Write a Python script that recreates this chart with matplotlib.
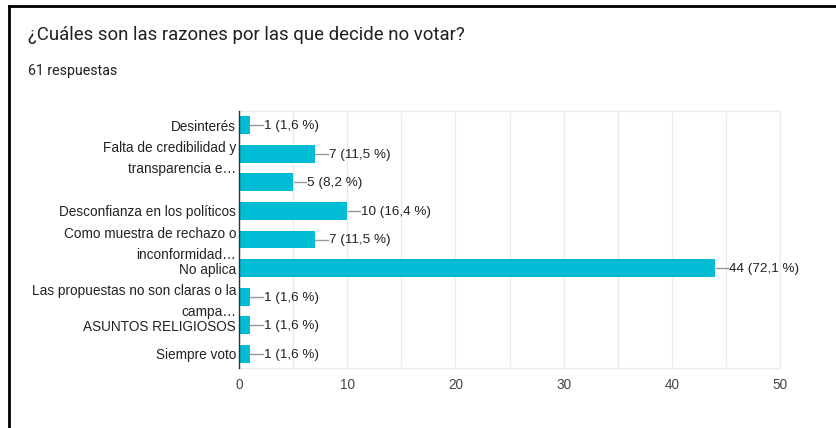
import matplotlib
matplotlib.use("Agg")
import matplotlib.pyplot as plt
from matplotlib.lines import Line2D
from matplotlib.transforms import offset_copy

categories = [
    "Desinterés",
    "Falta de credibilidad y\ntransparencia e…",
    "",
    "Desconfianza en los políticos",
    "Como muestra de rechazo o\ninconformidad…",
    "No aplica",
    "Las propuestas no son claras o la\ncampa…",
    "ASUNTOS RELIGIOSOS",
    "Siempre voto",
]
counts = [1, 7, 5, 10, 7, 44, 1, 1, 1]
percents = ["1,6", "11,5", "8,2", "16,4", "11,5", "72,1", "1,6", "1,6", "1,6"]
xticks = [0, 10, 20, 30, 40, 50]

W, H = 836, 428
fig = plt.figure(figsize=(W / 100, H / 100), dpi=100)
fig.patch.set_facecolor("white")

ax = fig.add_axes([239 / W, 1 - 368 / H, (780 - 239) / W, (368 - 111) / H])
ypos = list(range(len(categories)))
ax.barh(ypos, counts, height=0.63, color="#00bcd4", zorder=3)
ax.set_ylim(len(categories) - 0.5, -0.5)
ax.set_xlim(0, 50)
ax.set_xticks(xticks)
ax.set_xticks(range(0, 51, 5), minor=True)
ax.grid(axis="x", which="both", color="#ebebeb", linewidth=1, zorder=0)
ax.set_yticks(ypos)
ax.set_yticklabels(categories, fontsize=9.8, color="#222222",
                   family="Liberation Sans", linespacing=1.6)
ax.tick_params(axis="y", length=0, pad=2)
ax.tick_params(axis="x", which="both", length=0, pad=7,
               labelsize=9.8, labelcolor="#444444")
for lab in ax.get_xticklabels():
    lab.set_family("Liberation Sans")
for s in ["top", "right", "bottom"]:
    ax.spines[s].set_color("#ebebeb")
    ax.spines[s].set_linewidth(1)
ax.spines["left"].set_color("#333333")
ax.spines["left"].set_linewidth(1)
ax.spines["left"].set_zorder(5)

for y, c, p in zip(ypos, counts, percents):
    t0 = offset_copy(ax.transData, fig=fig, x=0.5, y=0, units="dots")
    t1 = offset_copy(ax.transData, fig=fig, x=13, y=0, units="dots")
    x0, _ = t0.transform((c, y))
    x1, _ = t1.transform((c, y))
    _, yy = ax.transData.transform((c, y))
    fig.add_artist(Line2D([x0 / W, x1 / W], [yy / H, yy / H],
                          color="#999999", linewidth=1))
    ax.text(c, y, f"{c} ({p} %)", transform=offset_copy(ax.transData, fig=fig, x=14, y=-1, units="dots"),
            va="center", ha="left", fontsize=9.7, color="#222222",
            family="Liberation Sans", zorder=6)

fig.text(28 / W, 1 - 35 / H, "¿Cuáles son las razones por las que decide no votar?",
         fontsize=13.4, color="#202124", family="Roboto", va="center", ha="left")
fig.text(28 / W, 1 - 71 / H, "61 respuestas", fontsize=10.2, color="#202124",
         family="Roboto", va="center", ha="left")

fig.add_artist(Line2D([9 / W, 1], [1 - 6 / H, 1 - 6 / H], color="black", linewidth=2))
fig.add_artist(Line2D([9 / W, 9 / W], [1 - 6 / H, 0], color="black", linewidth=2))

fig.savefig("out.png", dpi=100)
